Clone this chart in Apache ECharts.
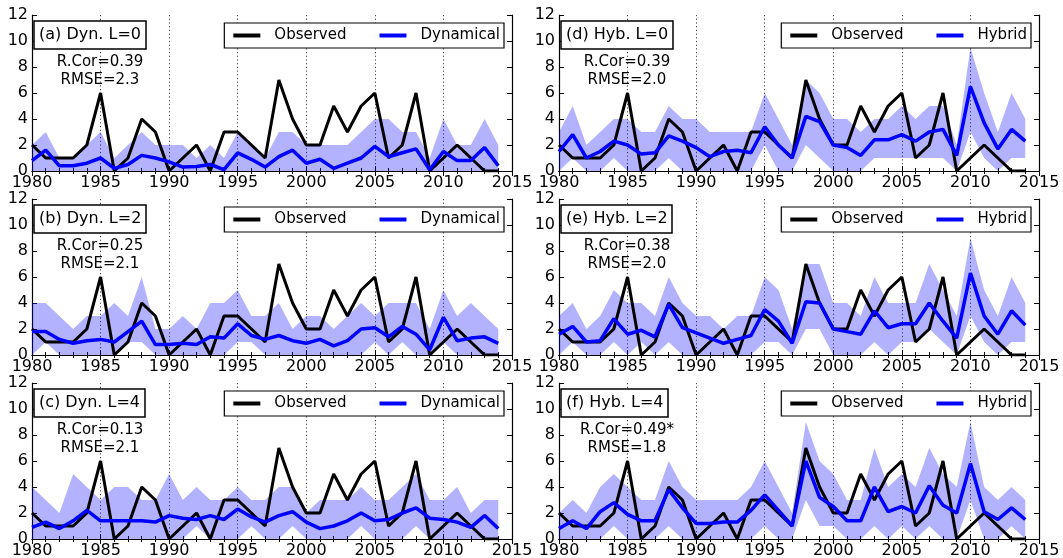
<!DOCTYPE html>
<html><head><meta charset="utf-8">
<script src="https://cdn.jsdelivr.net/npm/echarts@6/dist/echarts.min.js"></script>
<style>html,body{margin:0;padding:0;background:#fff}#c{width:1063px;height:558px}</style>
</head><body><div id="c"></div>
<script>
// ---------------- DATA ----------------
const years = [1980,1981,1982,1983,1984,1985,1986,1987,1988,1989,1990,1991,1992,1993,1994,1995,1996,1997,1998,1999,2000,2001,2002,2003,2004,2005,2006,2007,2008,2009,2010,2011,2012,2013,2014];
const xTicks = [1980,1985,1990,1995,2000,2005,2010,2015];
const yTicks = [0,2,4,6,8,10,12];

const observed = [2,1,1,1,2,6,0,1,4,3,0,1,2,0,3,3,2,1,7,4,2,2,5,3,5,6,1,2,6,0,1,2,1,0,0];

// (a) Dynamical L=0
const dynL0Mean = [0.8,1.6,0.4,0.4,0.6,1.0,0.2,0.5,1.2,1.0,0.7,0.3,0.35,0.5,0.1,1.4,0.9,0.3,1.1,1.6,0.6,0.9,0.2,0.6,1.0,1.9,1.1,1.4,1.7,0.1,1.5,0.8,0.8,1.8,0.4];
const dynL0Lo   = [0,0,0,0,0,0,0,0,0,0,0,0,0,0,0,0,0,0,0,0,0,0,0,0,0,0,0,0,0,0,0,0,0,0,0];
const dynL0Hi   = [2,3,1,1,2,3,1,2,3,2,2,2,1,2,1,3,2,1,3,3,2,2,2,2,3,4,4,3,3,1,4,2,2,4,2];
// (b) Dynamical L=2
const dynL2Mean = [1.8,1.8,1.2,0.9,1.1,1.2,1.0,1.8,2.6,0.8,0.8,0.9,0.8,1.4,1.3,2.4,1.5,1.2,1.5,1.1,0.9,1.2,0.7,1.1,2.0,2.1,1.4,2.2,1.6,0.4,2.9,1.1,1.3,1.4,0.9];
const dynL2Lo   = [0,1,0,0,0,0,0,1,1,0,0,0,0,0,0,1,1,0,0,0,0,0,0,0,0,1,0,1,0,0,1,0,0,0,0];
const dynL2Hi   = [4,4,3,2,3,3,4,3,6,2,2,3,2,4,4,5,3,3,4,2,3,3,2,3,4,3,4,4,4,2,5,3,4,3,2];
// (c) Dynamical L=4
const dynL4Mean = [0.9,1.3,0.8,1.4,2.2,1.4,1.4,1.4,1.4,1.3,1.8,1.6,1.5,1.8,1.5,2.3,1.7,1.3,1.8,2.1,1.3,0.8,1.0,1.4,2.0,1.4,1.5,2.0,2.4,1.6,1.5,1.3,0.9,1.8,0.8];
const dynL4Lo   = [0,0,0,0,0,0,0,0,0,0,0,0,1,0,0,0,1,0,0,1,0,0,0,0,1,0,0,0,1,0,0,0,0,0,0];
const dynL4Hi   = [4,3,2,5,4,3,4,4,3,3,5,3,4,3,3,4,3,3,4,4,2,3,3,3,4,3,3,4,5,3,3,4,2,3,3];
// (d) Hybrid L=0
const hybL0Mean = [1.5,2.8,1.0,1.5,2.3,2.0,1.3,1.4,2.7,2.3,1.8,1.1,1.5,1.6,1.4,3.4,2.0,1.0,4.2,3.8,2.0,1.8,1.2,2.4,2.4,2.8,2.3,3.0,3.2,1.2,6.5,3.7,1.7,3.2,2.3];
const hybL0Lo   = [0,1,0,0,1,0,0,0,1,0,0,0,0,0,0,2,0,0,2,1,0,0,0,1,1,1,1,1,1,0,3,1,0,1,1];
const hybL0Hi   = [3,5,2,3,4,4,3,3,5,4,4,3,3,3,3,6,4,2,7,6,4,4,3,4,4,5,4,5,5,2,9.5,6,3,6,4];
// (e) Hybrid L=2
const hybL2Mean = [1.6,2.2,1.0,1.1,2.8,1.6,1.9,1.4,3.9,2.1,1.7,1.3,0.9,1.2,1.5,3.5,2.6,0.9,4.1,4.0,2.0,1.8,1.6,3.4,2.1,2.4,2.4,4.0,2.6,1.3,6.3,3.0,1.6,3.4,2.3];
const hybL2Lo   = [0,1,0,0,1,0,1,0,1,0,0,0,0,0,0,1,1,0,2,2,0,0,0,1,0,1,1,2,1,0,3,1,0,1,1];
const hybL2Hi   = [3,4,2,3,5,4,4,3,6,4,3,3,2,3,3,6,5,2,7,7,4,4,3,6,4,4,4,7,5,3,9,5,3,6,4];
// (f) Hybrid L=4
const hybL4Mean = [0.8,1.4,0.8,2.1,2.8,1.9,1.4,1.4,3.8,2.4,1.2,1.2,1.3,1.3,2.2,3.4,2.2,1.0,6.0,3.2,2.5,1.4,1.4,4.0,2.1,2.5,2.0,4.1,2.6,2.0,5.8,2.1,1.5,2.4,1.5];
const hybL4Lo   = [0,0,0,0,1,0,0,0,1,0,0,0,0,0,0,1,0,0,3,1,1,0,0,1,0,1,0,1,0,0,3,0,0,1,0];
const hybL4Hi   = [2,3,2,4,5,4,3,3,6,4,3,3,3,3,4,6,4,2,9,6,5,3,3,7,4,5,4,7,5,4,9,4,3,4,3];

const panels = [
  {label:'(a) Dyn. L=0', model:'Dynamical', mean:dynL0Mean, lo:dynL0Lo, hi:dynL0Hi, rcor:'R.Cor=0.39', rmse:'RMSE=2.3', row:0, col:0},
  {label:'(b) Dyn. L=2', model:'Dynamical', mean:dynL2Mean, lo:dynL2Lo, hi:dynL2Hi, rcor:'R.Cor=0.25', rmse:'RMSE=2.1', row:1, col:0},
  {label:'(c) Dyn. L=4', model:'Dynamical', mean:dynL4Mean, lo:dynL4Lo, hi:dynL4Hi, rcor:'R.Cor=0.13', rmse:'RMSE=2.1', row:2, col:0},
  {label:'(d) Hyb. L=0', model:'Hybrid', mean:hybL0Mean, lo:hybL0Lo, hi:hybL0Hi, rcor:'R.Cor=0.39', rmse:'RMSE=2.0', row:0, col:1},
  {label:'(e) Hyb. L=2', model:'Hybrid', mean:hybL2Mean, lo:hybL2Lo, hi:hybL2Hi, rcor:'R.Cor=0.38', rmse:'RMSE=2.0', row:1, col:1},
  {label:'(f) Hyb. L=4', model:'Hybrid', mean:hybL4Mean, lo:hybL4Lo, hi:hybL4Hi, rcor:'R.Cor=0.49*', rmse:'RMSE=1.8', row:2, col:1}
];

// ---------------- LAYOUT ----------------
const W = 1063;
const colLeft = [32, 559];
const rowTop = [15, 199, 383];
const gw = 480, gh = 156;
const FONT = '"DejaVu Sans", Verdana, sans-serif';
const BAND = 'rgba(0,0,255,0.3)';

const chart = echarts.init(document.getElementById('c'), null, {renderer:'canvas'});
const grid = [], xAxis = [], yAxis = [], series = [], title = [], legend = [], graphic = [];

panels.forEach((p, i) => {
  const L = colLeft[p.col], T = rowTop[p.row];
  grid.push({left:L, top:T, width:gw, height:gh, show:false, containLabel:false, outerBoundsMode:'none'});
  const axLine = {show:true, lineStyle:{color:'#000', width:1.2}};
  const xBase = {type:'value', gridIndex:i, min:xTicks[0], max:xTicks[xTicks.length-1], interval:5,
    axisLine:axLine, axisTick:{show:true, inside:true, length:5, lineStyle:{color:'#000'}},
    minorTick:{show:true, splitNumber:5, length:3, lineStyle:{color:'#000'}}};
  xAxis.push(Object.assign({}, xBase, {position:'bottom',
    axisLabel:{show:true, fontSize:16, color:'#000', fontFamily:FONT, margin:4, showMinLabel:true, showMaxLabel:true,
      formatter:(v)=>String(v)},
    splitLine:{show:true, lineStyle:{color:'#444', width:1, type:[1.2,2.5]}}}));
  xAxis.push(Object.assign({}, xBase, {position:'top', axisLabel:{show:false}, splitLine:{show:false}}));
  const yBase = {type:'value', gridIndex:i, min:yTicks[0], max:yTicks[yTicks.length-1], interval:2,
    axisLine:axLine, axisTick:{show:true, inside:true, length:5, lineStyle:{color:'#000'}}, splitLine:{show:false}};
  yAxis.push(Object.assign({}, yBase, {position:'left',
    axisLabel:{show:true, fontSize:16, color:'#000', fontFamily:FONT, margin:4, formatter:(v)=>String(v)}}));
  yAxis.push(Object.assign({}, yBase, {position:'right', axisLabel:{show:false}}));
  const xi = 2*i, yi = 2*i;

  // shaded ensemble range as a polygon, positioned through the axes' scales
  series.push({name:'range'+i, type:'custom', xAxisIndex:xi, yAxisIndex:yi, silent:true, z:1, clip:true,
    data: years.map((y,k)=>[y, p.lo[k], p.hi[k]]),
    renderItem: (params, api) => {
      if (params.dataIndex !== 0) return null;
      const top = years.map((y,k)=>api.coord([y, p.hi[k]]));
      const bot = years.map((y,k)=>api.coord([y, p.lo[k]])).reverse();
      return {type:'polygon', shape:{points: top.concat(bot)}, style:{fill:BAND}};
    }});
  series.push({name:'Observed', type:'line', xAxisIndex:xi, yAxisIndex:yi, color:'#000',
    data:years.map((y,k)=>[y, observed[k]]), symbol:'none', lineStyle:{color:'#000', width:3}, z:3});
  series.push({name:p.model, type:'line', xAxisIndex:xi, yAxisIndex:yi, color:'#0000ff',
    data:years.map((y,k)=>[y, p.mean[k]]), symbol:'none', lineStyle:{color:'#0000ff', width:3.5}, z:4});

  title.push({text:p.label, left:L+2, top:T+6, padding:[6,5,6,5], borderColor:'#000', borderWidth:1.5,
    backgroundColor:'#fff',
    textStyle:{fontSize:16, fontWeight:'normal', color:'#000', fontFamily:FONT}});
  legend.push({data:['Observed', p.model], right:W-(L+gw)+8, top:T+8, orient:'horizontal',
    icon:'rect', itemWidth:27, itemHeight:4, itemGap:33, selectedMode:false,
    borderColor:'#000', borderWidth:1.2, backgroundColor:'#fff', padding:[5,4,5,9],
    textStyle:{fontSize:15, color:'#000', fontFamily:FONT, padding:[0,0,0,9]}});
  graphic.push({type:'text', x:L+68, y:T+47, style:{text:p.rcor, fill:'#000', font:'15px '+FONT, align:'center', verticalAlign:'middle'}, z:100});
  graphic.push({type:'text', x:L+68, y:T+65, style:{text:p.rmse, fill:'#000', font:'15px '+FONT, align:'center', verticalAlign:'middle'}, z:100});
});

chart.setOption({animation:false, backgroundColor:'#fff', grid, xAxis, yAxis, series, title, legend, graphic});
</script></body></html>
